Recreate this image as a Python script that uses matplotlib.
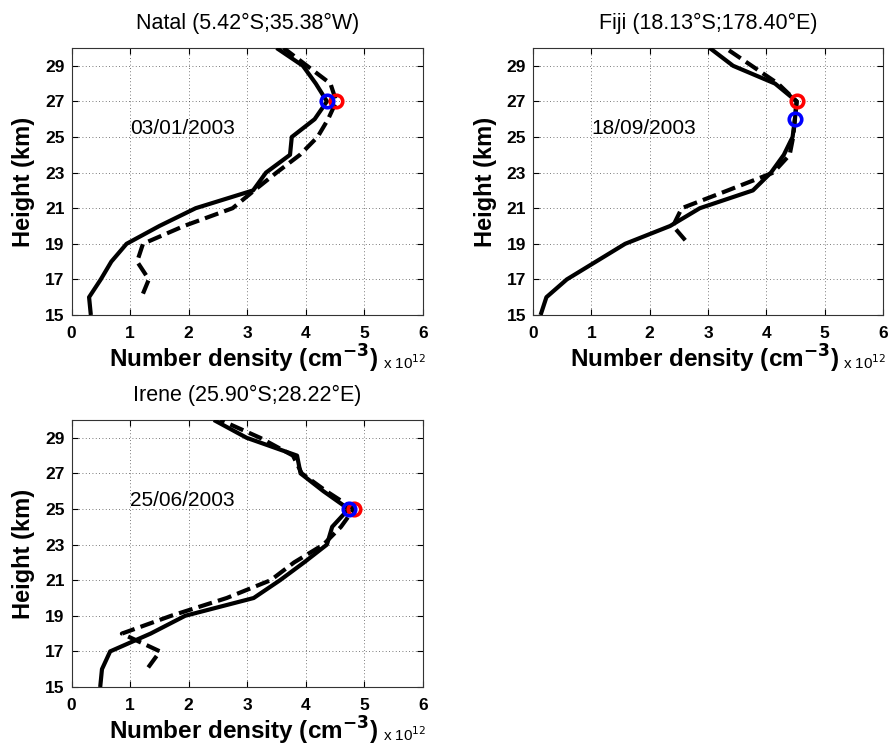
import matplotlib
matplotlib.use("Agg")
import matplotlib.pyplot as plt

plt.rcParams['font.family'] = ['Liberation Sans', 'DejaVu Sans']

# ---------------- data ----------------
titles = ["Natal (5.42°S;35.38°W)", "Fiji (18.13°S;178.40°E)", "Irene (25.90°S;28.22°E)"]
dates = ["03/01/2003", "18/09/2003", "25/06/2003"]

# Natal
natal_solid_h = [15, 16, 17, 18, 19, 20, 21, 22, 23, 24, 25, 26, 27, 28, 29, 30]
natal_solid_x = [0.33, 0.30, 0.50, 0.68, 0.94, 1.50, 2.12, 3.10, 3.32, 3.73, 3.76, 4.15, 4.36, 4.17, 3.95, 3.50]
natal_dash_h = [16.2, 17, 18, 19, 20, 21, 22, 23, 24, 25, 26, 27, 28, 29, 30]
natal_dash_x = [1.22, 1.32, 1.12, 1.22, 1.92, 2.75, 3.12, 3.50, 3.90, 4.20, 4.38, 4.52, 4.42, 4.02, 3.62]
natal_blue = (4.36, 27)
natal_red = (4.52, 27)

# Fiji
fiji_solid_h = [15, 16, 17, 18, 19, 20, 21, 22, 23, 24, 25, 26, 27, 28, 29, 30]
fiji_solid_x = [0.13, 0.23, 0.58, 1.08, 1.58, 2.35, 2.86, 3.77, 4.08, 4.30, 4.45, 4.49, 4.52, 4.15, 3.43, 3.03]
fiji_dash_h = [19.2, 20, 21, 22, 23, 24, 25, 26, 27, 28, 29, 30]
fiji_dash_x = [2.61, 2.40, 2.55, 3.34, 4.12, 4.40, 4.46, 4.49, 4.52, 4.20, 3.75, 3.30]
fiji_blue = (4.49, 26)
fiji_red = (4.52, 27)

# Irene
irene_solid_h = [15, 16, 17, 18, 19, 20, 21, 22, 23, 24, 25, 26, 27, 28, 29, 30]
irene_solid_x = [0.49, 0.52, 0.66, 1.35, 1.94, 3.11, 3.56, 3.97, 4.36, 4.45, 4.73, 4.30, 3.91, 3.85, 2.99, 2.43]
irene_dash_h = [16.1, 17, 18, 19, 20, 21, 22, 23, 24, 25, 26, 27, 28, 29, 30]
irene_dash_x = [1.31, 1.51, 0.86, 1.70, 2.65, 3.40, 3.80, 4.30, 4.60, 4.82, 4.35, 3.93, 3.78, 3.22, 2.54]
irene_blue = (4.73, 25)
irene_red = (4.82, 25)

x_ticks = [0, 1, 2, 3, 4, 5, 6]
y_ticks = [15, 17, 19, 21, 23, 25, 27, 29]

panels = [
    (natal_solid_x, natal_solid_h, natal_dash_x, natal_dash_h, natal_blue, natal_red),
    (fiji_solid_x, fiji_solid_h, fiji_dash_x, fiji_dash_h, fiji_blue, fiji_red),
    (irene_solid_x, irene_solid_h, irene_dash_x, irene_dash_h, irene_blue, irene_red),
]

W, H = 891, 749
fig = plt.figure(figsize=(W / 100, H / 100), dpi=100)

# axes boxes in pixels: left, top, right, bottom
boxes = [(71.5, 48, 423, 315), (533, 48, 883, 315), (71.5, 420, 423, 687)]

for i, (box, pdata) in enumerate(zip(boxes, panels)):
    l, t, r, b = box
    ax = fig.add_axes([l / W, 1 - b / H, (r - l) / W, (b - t) / H])
    sx, sh, dx, dh, blue, red = pdata
    ax.plot(sx, sh, color='black', lw=3.0, solid_capstyle='butt', zorder=3)
    ax.plot(dx, dh, color='black', lw=3.0, ls='--', dashes=(3.4, 1.5), zorder=3)
    ax.plot([red[0]], [red[1]], 'o', ms=9, mfc='none', mec='red', mew=2.6, zorder=4)
    ax.plot([blue[0]], [blue[1]], 'o', ms=9, mfc='none', mec='blue', mew=2.6, zorder=5)
    ax.set_xlim(0, 6)
    ax.set_ylim(15, 30)
    ax.set_xticks(x_ticks)
    ax.set_yticks(y_ticks)
    ax.grid(True, ls=(0, (1, 3)), color='#222222', lw=0.6, alpha=0.8)
    ax.tick_params(direction='in', top=True, right=True, length=4, width=0.8,
                   labelsize=12.5)
    ax.tick_params(axis='x', pad=8)
    ax.tick_params(axis='y', pad=5)
    for lab in ax.get_xticklabels() + ax.get_yticklabels():
        lab.set_fontweight('bold')
    for sp in ax.spines.values():
        sp.set_color('#333333')
        sp.set_linewidth(0.8)
    ax.set_title(titles[i], fontsize=15.5, pad=14)
    ax.set_ylabel("Height (km)", fontsize=17, fontweight='bold', labelpad=7)
    ax.set_xlabel("Number density (cm$^{\\mathbf{-3}}$)", fontsize=17.5, fontweight='bold')
    ax.xaxis.set_label_coords(0.49, -0.105)
    ax.text(1.0, 25.5, dates[i], fontsize=15, ha='left', va='center')
    fig.text((r + 3) / W, 1 - 369 / H + (0 if i < 2 else -(420 - 48) / H),
             "x 10$^{12}$", fontsize=11, ha='right', va='baseline')

fig.savefig("out.png", dpi=100)
